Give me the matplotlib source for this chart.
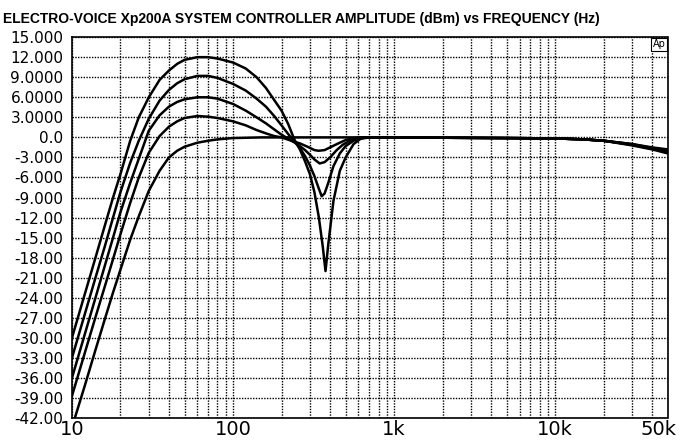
import matplotlib
matplotlib.use("Agg")
import matplotlib.pyplot as plt
import matplotlib.transforms as mtransforms
from matplotlib.ticker import FixedLocator, NullFormatter, FixedFormatter

# niveles (dB) en cada frecuencia (Hz)
f_12 = [10, 12, 14, 16, 18, 20, 23, 26, 30, 35, 40, 45, 50, 60, 70, 80, 100, 120, 140, 160,
        180, 200, 220, 240, 260, 280, 300, 320, 340, 360, 375, 390, 420, 460, 500, 560, 620,
        700, 1000, 2000, 5000, 10000, 15000, 20000, 30000, 40000, 50000]
db_12 = [-30.0, -23.5, -18.0, -13.2, -9.0, -5.5, -0.5, 3.0, 6.0, 8.6, 10.0, 11.0, 11.6, 12.0,
         12.0, 11.8, 11.2, 10.3, 9.0, 7.4, 5.6, 4.0, 2.0, -0.3, -1.8, -3.6, -5.5, -8.2, -11.8,
         -16.2, -20.0, -16.0, -9.5, -5.0, -3.0, -1.0, -0.2, 0.0, 0.0, -0.05, -0.1, -0.15,
         -0.3, -0.5, -1.0, -1.5, -1.8]

f_9 = [10, 12, 14, 16, 18, 20, 23, 26, 30, 35, 40, 45, 50, 60, 70, 80, 100, 120, 140, 160,
       180, 200, 220, 240, 260, 280, 300, 320, 340, 355, 370, 390, 420, 460, 500, 560, 620,
       700, 1000, 2000, 5000, 10000, 15000, 20000, 30000, 40000, 50000]
db_9 = [-33.0, -26.5, -21.0, -16.3, -12.0, -8.2, -3.8, -0.5, 2.8, 5.5, 7.1, 8.1, 8.7, 9.2,
        9.2, 8.9, 8.0, 7.0, 5.8, 4.6, 3.2, 1.8, 0.5, -0.6, -1.6, -2.8, -4.2, -5.8, -7.6, -8.8,
        -8.4, -6.8, -4.3, -2.4, -1.3, -0.5, -0.1, 0.0, 0.0, -0.05, -0.1, -0.15, -0.3, -0.5,
        -1.0, -1.6, -1.9]

f_6 = [10, 12, 14, 16, 18, 20, 23, 26, 30, 35, 40, 45, 50, 60, 70, 80, 100, 120, 140, 160,
       180, 200, 220, 250, 280, 300, 320, 345, 370, 400, 440, 480, 540, 620,
       700, 1000, 2000, 5000, 10000, 15000, 20000, 30000, 40000, 50000]
db_6 = [-36.0, -29.5, -24.0, -19.2, -15.0, -11.2, -6.8, -3.2, 1.0, 3.3, 4.6, 5.3, 5.7, 6.0,
        6.0, 5.8, 5.0, 4.0, 3.0, 2.1, 1.2, 0.4, -0.2, -1.0, -1.9, -2.6, -3.3, -3.9, -3.7,
        -3.0, -1.9, -1.1, -0.4, -0.1, 0.0, 0.0, -0.05, -0.1, -0.15, -0.3, -0.5, -1.1, -1.7,
        -2.1]

f_3 = [10, 12, 14, 16, 18, 20, 23, 26, 30, 35, 40, 45, 50, 60, 70, 80, 100, 120, 140, 160,
       180, 200, 230, 260, 290, 320, 340, 370, 400, 450, 500, 560, 620,
       700, 1000, 2000, 5000, 10000, 15000, 20000, 30000, 40000, 50000]
db_3 = [-38.7, -32.3, -26.9, -22.3, -18.2, -14.5, -9.8, -6.0, -2.3, 0.2, 1.6, 2.4, 2.9, 3.2,
        3.1, 2.9, 2.4, 1.8, 1.1, 0.6, 0.2, 0.0, -0.5, -0.9, -1.4, -1.9, -2.0, -1.9, -1.5,
        -0.9, -0.4, -0.1, 0.0, 0.0, 0.0, -0.05, -0.1, -0.15, -0.3, -0.5, -1.1, -1.7, -2.2]

f_0 = [10, 12, 14, 16, 18, 20, 23, 26, 30, 35, 40, 45, 50, 60, 70, 80, 100, 150,
       700, 1000, 2000, 5000, 10000, 15000, 20000, 30000, 40000, 50000]
db_0 = [-43.4, -37.2, -31.8, -27.2, -23.2, -19.8, -15.3, -11.8, -8.0, -5.0, -3.0, -2.0, -1.4,
        -0.8, -0.5, -0.3, -0.1, 0.0, 0.0, 0.0, -0.05, -0.1, -0.15, -0.3, -0.5, -1.2, -1.8,
        -2.4]

curvas = [(f_12, db_12), (f_9, db_9), (f_6, db_6), (f_3, db_3), (f_0, db_0)]

y_ticks = list(range(-42, 16, 3))
y_labels = ["-42.00", "-39.00", "-36.00", "-33.00", "-30.00", "-27.00", "-24.00", "-21.00",
            "-18.00", "-15.00", "-12.00", "-9.000", "-6.000", "-3.000", "0.0",
            "3.0000", "6.0000", "9.0000", "12.000", "15.000"]
x_major = [10, 100, 1000, 10000, 50000]
x_labels = ["10", "100", "1k", "10k", "50k"]
x_minor = [20, 30, 40, 50, 60, 70, 80, 90, 200, 300, 400, 500, 600, 700, 800, 900,
           2000, 3000, 4000, 5000, 6000, 7000, 8000, 9000, 20000, 30000, 40000]

fig = plt.figure(figsize=(6.85, 4.42), dpi=100)
ax = fig.add_axes([0.105, 0.054, 0.870, 0.862])

for f, db in curvas:
    ax.plot(f, db, color="black", lw=1.8, solid_joinstyle="round")

ax.set_xscale("log")
ax.set_xlim(10, 50000)
ax.set_ylim(-42, 15)

ax.xaxis.set_major_locator(FixedLocator(x_major))
ax.xaxis.set_major_formatter(FixedFormatter(x_labels))
ax.xaxis.set_minor_locator(FixedLocator(x_minor))
ax.xaxis.set_minor_formatter(NullFormatter())
ax.yaxis.set_major_locator(FixedLocator(y_ticks))
ax.yaxis.set_major_formatter(FixedFormatter(y_labels))

ax.grid(True, which="both", color="black", lw=1.0, linestyle=(0, (1, 1)))
ax.tick_params(which="both", length=0)
ax.tick_params(axis="x", labelsize=14, pad=1)
ax.tick_params(axis="y", labelsize=11, pad=6)
for s in ax.spines.values():
    s.set_linestyle((0, (1, 1)))
    s.set_linewidth(1.2)

# el "50k" queda un poco a la izquierda del borde, como en el original
ultimo = ax.get_xticklabels()[-1]
ultimo.set_transform(ultimo.get_transform() +
                     mtransforms.ScaledTranslation(-9 / 100, 0, fig.dpi_scale_trans))

ax.text(0.996, 0.994, "Ap", transform=ax.transAxes, ha="right", va="top", fontsize=7,
        bbox=dict(boxstyle="square,pad=0.15", fc="white", ec="black", lw=0.8))

fig.text(0.004, 0.958, "ELECTRO-VOICE Xp200A SYSTEM CONTROLLER AMPLITUDE (dBm) vs FREQUENCY (Hz)",
         ha="left", va="center", fontsize=10, fontweight="bold", family="Liberation Sans")

fig.savefig("out.png", dpi=100)
